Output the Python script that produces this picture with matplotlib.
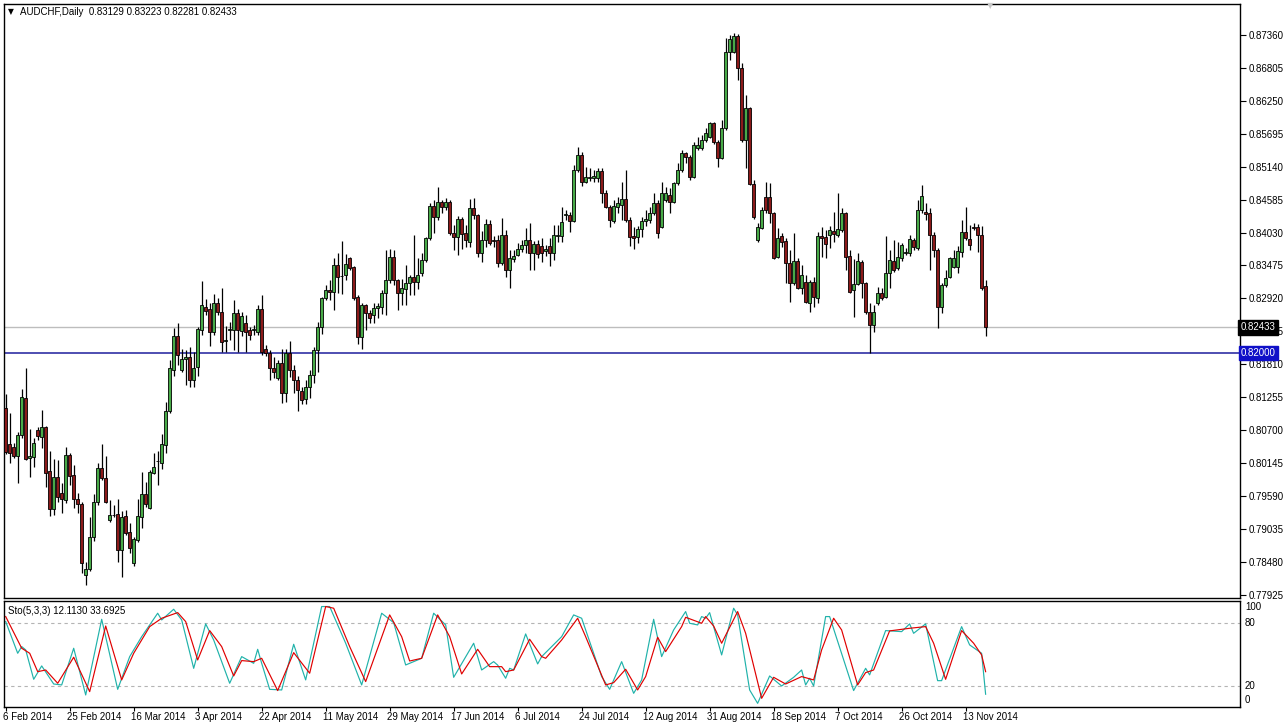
import numpy as np
import matplotlib
matplotlib.use("Agg")
import matplotlib.pyplot as plt
from matplotlib.transforms import blended_transform_factory

plt.rcParams['font.family'] = ['Liberation Sans', 'DejaVu Sans']

# ---------------- data (AUDCHF daily, bar 0 = 6 Feb 2014) ----------------
opens = [
    0.8107, 0.8047, 0.8042, 0.8026, 0.8062, 0.8124, 0.8023, 0.8025, 0.8070, 0.8058,
    0.8075, 0.8001, 0.7937, 0.7991, 0.7964, 0.7952, 0.8028, 0.7994, 0.7954, 0.7946,
    0.7826, 0.7836, 0.7890, 0.7949, 0.8006, 0.7989, 0.7919, 0.7927, 0.7929, 0.7868,
    0.7925, 0.7898, 0.7846, 0.7885, 0.7924, 0.7962, 0.7939, 0.7998, 0.8018, 0.8015,
    0.8045, 0.8102, 0.8171, 0.8229, 0.8171, 0.8190, 0.8193, 0.8155, 0.8176, 0.8239,
    0.8278, 0.8274, 0.8235, 0.8284, 0.8269, 0.8220, 0.8239, 0.8239, 0.8267, 0.8237,
    0.8251, 0.8239, 0.8239, 0.8235, 0.8274, 0.8207, 0.8200, 0.8175, 0.8158, 0.8183,
    0.8133, 0.8200, 0.8171, 0.8155, 0.8136, 0.8122, 0.8143, 0.8163, 0.8205, 0.8244,
    0.8293, 0.8306, 0.8303, 0.8348, 0.8330, 0.8331, 0.8360, 0.8345, 0.8294, 0.8227,
    0.8281, 0.8267, 0.8264, 0.8276, 0.8278, 0.8301, 0.8323, 0.8362, 0.8323, 0.8301,
    0.8308, 0.8318, 0.8328, 0.8320, 0.8335, 0.8357, 0.8394, 0.8448, 0.8429, 0.8454,
    0.8446, 0.8454, 0.8402, 0.8395, 0.8426, 0.8402, 0.8387, 0.8444, 0.8433, 0.8369,
    0.8390, 0.8417, 0.8390, 0.8390, 0.8352, 0.8399, 0.8340, 0.8358, 0.8365, 0.8375,
    0.8382, 0.8390, 0.8369, 0.8384, 0.8380, 0.8372, 0.8380, 0.8369, 0.8397, 0.8397,
    0.8433, 0.8433, 0.8422, 0.8508, 0.8534, 0.8488, 0.8495, 0.8495, 0.8495, 0.8507,
    0.8470, 0.8446, 0.8422, 0.8446, 0.8449, 0.8459, 0.8424, 0.8397, 0.8395, 0.8409,
    0.8422, 0.8424, 0.8436, 0.8453, 0.8412, 0.8458, 0.8466, 0.8454, 0.8487, 0.8508,
    0.8537, 0.8530, 0.8497, 0.8545, 0.8545, 0.8559, 0.8564, 0.8588, 0.8556, 0.8529,
    0.8579, 0.8707, 0.8707, 0.8734, 0.8680, 0.8559, 0.8613, 0.8485, 0.8390, 0.8411,
    0.8463, 0.8463, 0.8436, 0.8362, 0.8397, 0.8389, 0.8352, 0.8318, 0.8355, 0.8310,
    0.8320, 0.8284, 0.8320, 0.8293, 0.8397, 0.8395, 0.8399, 0.8406, 0.8399, 0.8407,
    0.8436, 0.8363, 0.8306, 0.8316, 0.8353, 0.8318, 0.8269, 0.8247, 0.8284, 0.8301,
    0.8294, 0.8335, 0.8355, 0.8343, 0.8360, 0.8369, 0.8369, 0.8390, 0.8377, 0.8441,
    0.8438, 0.8436, 0.8399, 0.8374, 0.8278, 0.8315, 0.8328, 0.8345, 0.8345, 0.8370,
    0.8404, 0.8392, 0.8412, 0.8412, 0.8399, 0.83129,
]
highs = [
    0.8131, 0.8099, 0.8048, 0.8067, 0.8139, 0.8175, 0.8072, 0.8057, 0.8075, 0.8104,
    0.8077, 0.8035, 0.8021, 0.8020, 0.7981, 0.8042, 0.8032, 0.8011, 0.7964, 0.7949,
    0.7848, 0.7924, 0.7962, 0.8015, 0.8047, 0.8026, 0.7952, 0.7944, 0.7954, 0.7934,
    0.7935, 0.7914, 0.7890, 0.7954, 0.7999, 0.7983, 0.8003, 0.8032, 0.8035, 0.8063,
    0.8117, 0.8188, 0.8242, 0.8251, 0.8207, 0.8205, 0.8210, 0.8202, 0.8244, 0.8321,
    0.8291, 0.8284, 0.8299, 0.8293, 0.8310, 0.8246, 0.8252, 0.8289, 0.8274, 0.8269,
    0.8264, 0.8244, 0.8247, 0.8281, 0.8298, 0.8213, 0.8205, 0.8193, 0.8188, 0.8207,
    0.8207, 0.8220, 0.8180, 0.8161, 0.8143, 0.8155, 0.8171, 0.8210, 0.8252, 0.8294,
    0.8315, 0.8323, 0.8360, 0.8369, 0.8389, 0.8367, 0.8362, 0.8347, 0.8298, 0.8284,
    0.8283, 0.8272, 0.8284, 0.8284, 0.8306, 0.8374, 0.8375, 0.8374, 0.8325, 0.8325,
    0.8348, 0.8331, 0.8399, 0.8360, 0.8369, 0.8395, 0.8453, 0.8458, 0.8480, 0.8458,
    0.8461, 0.8458, 0.8416, 0.8431, 0.8429, 0.8416, 0.8460, 0.8461, 0.8435, 0.8406,
    0.8426, 0.8424, 0.8397, 0.8399, 0.8428, 0.8407, 0.8374, 0.8374, 0.8385, 0.8390,
    0.8411, 0.8419, 0.8389, 0.8390, 0.8394, 0.8382, 0.8394, 0.8416, 0.8416, 0.8446,
    0.8441, 0.8438, 0.8517, 0.8547, 0.8539, 0.8513, 0.8512, 0.8508, 0.8512, 0.8512,
    0.8475, 0.8449, 0.8458, 0.8463, 0.8488, 0.8508, 0.8429, 0.8412, 0.8414, 0.8429,
    0.8441, 0.8446, 0.8470, 0.8458, 0.8488, 0.8480, 0.8478, 0.8488, 0.8520, 0.8542,
    0.8539, 0.8534, 0.8556, 0.8564, 0.8567, 0.8579, 0.8589, 0.8589, 0.8559, 0.8593,
    0.8731, 0.8736, 0.8739, 0.8737, 0.8689, 0.8635, 0.8615, 0.8492, 0.8419, 0.8446,
    0.8488, 0.8486, 0.8438, 0.8411, 0.8402, 0.8394, 0.8374, 0.8402, 0.8360, 0.8348,
    0.8331, 0.8323, 0.8328, 0.8404, 0.8412, 0.8407, 0.8414, 0.8438, 0.8470, 0.8444,
    0.8438, 0.8374, 0.8358, 0.8369, 0.8357, 0.8320, 0.8284, 0.8281, 0.8311, 0.8310,
    0.8397, 0.8374, 0.8390, 0.8387, 0.8385, 0.8377, 0.8399, 0.8394, 0.8458, 0.8483,
    0.8453, 0.8444, 0.8404, 0.8377, 0.8318, 0.8340, 0.8362, 0.8374, 0.8380, 0.8424,
    0.8446, 0.8416, 0.8419, 0.8417, 0.8414, 0.83223,
]
lows = [
    0.8030, 0.8015, 0.8023, 0.7981, 0.8057, 0.8020, 0.7991, 0.8008, 0.8053, 0.8040,
    0.7974, 0.7925, 0.7927, 0.7949, 0.7930, 0.7947, 0.7978, 0.7939, 0.7930, 0.7829,
    0.7809, 0.7833, 0.7883, 0.7944, 0.7986, 0.7947, 0.7915, 0.7924, 0.7848, 0.7823,
    0.7893, 0.7863, 0.7841, 0.7882, 0.7905, 0.7941, 0.7937, 0.7996, 0.7978, 0.8005,
    0.8032, 0.8099, 0.8161, 0.8180, 0.8168, 0.8146, 0.8143, 0.8143, 0.8161, 0.8230,
    0.8264, 0.8212, 0.8230, 0.8264, 0.8202, 0.8202, 0.8222, 0.8205, 0.8202, 0.8229,
    0.8202, 0.8222, 0.8230, 0.8230, 0.8197, 0.8195, 0.8155, 0.8158, 0.8155, 0.8116,
    0.8117, 0.8160, 0.8133, 0.8102, 0.8114, 0.8114, 0.8124, 0.8149, 0.8168, 0.8232,
    0.8289, 0.8289, 0.8272, 0.8301, 0.8299, 0.8323, 0.8340, 0.8289, 0.8215, 0.8207,
    0.8239, 0.8251, 0.8251, 0.8259, 0.8266, 0.8264, 0.8318, 0.8315, 0.8272, 0.8281,
    0.8281, 0.8298, 0.8298, 0.8308, 0.8330, 0.8353, 0.8390, 0.8402, 0.8424, 0.8436,
    0.8441, 0.8399, 0.8374, 0.8365, 0.8375, 0.8379, 0.8379, 0.8426, 0.8362, 0.8353,
    0.8379, 0.8382, 0.8379, 0.8345, 0.8348, 0.8328, 0.8310, 0.8353, 0.8363, 0.8370,
    0.8369, 0.8340, 0.8340, 0.8360, 0.8353, 0.8363, 0.8347, 0.8357, 0.8387, 0.8387,
    0.8424, 0.8404, 0.8421, 0.8505, 0.8481, 0.8486, 0.8490, 0.8488, 0.8488, 0.8453,
    0.8444, 0.8412, 0.8419, 0.8436, 0.8424, 0.8421, 0.8380, 0.8375, 0.8385, 0.8395,
    0.8414, 0.8419, 0.8433, 0.8394, 0.8411, 0.8454, 0.8436, 0.8453, 0.8483, 0.8505,
    0.8520, 0.8492, 0.8495, 0.8542, 0.8542, 0.8556, 0.8562, 0.8552, 0.8513, 0.8527,
    0.8576, 0.8694, 0.8705, 0.8660, 0.8556, 0.8512, 0.8483, 0.8425, 0.8387, 0.8409,
    0.8436, 0.8419, 0.8358, 0.8360, 0.8379, 0.8318, 0.8286, 0.8315, 0.8308, 0.8299,
    0.8284, 0.8269, 0.8278, 0.8284, 0.8362, 0.8360, 0.8377, 0.8387, 0.8395, 0.8404,
    0.8340, 0.8301, 0.8261, 0.8315, 0.8293, 0.8266, 0.8200, 0.8235, 0.8281, 0.8289,
    0.8293, 0.8310, 0.8336, 0.8340, 0.8355, 0.8365, 0.8363, 0.8374, 0.8374, 0.8436,
    0.8424, 0.8340, 0.8362, 0.8242, 0.8267, 0.8311, 0.8326, 0.8343, 0.8335, 0.8362,
    0.8390, 0.8374, 0.8407, 0.8370, 0.8306, 0.82281,
]
closes = [
    0.8033, 0.8032, 0.8026, 0.8062, 0.8126, 0.8021, 0.8026, 0.8048, 0.8060, 0.8075,
    0.7998, 0.7937, 0.7991, 0.7957, 0.7954, 0.8028, 0.7993, 0.7954, 0.7946, 0.7846,
    0.7836, 0.7890, 0.7949, 0.8006, 0.7989, 0.7949, 0.7927, 0.7927, 0.7868, 0.7924,
    0.7897, 0.7871, 0.7887, 0.7925, 0.7962, 0.7946, 0.7999, 0.8008, 0.8018, 0.8047,
    0.8102, 0.8175, 0.8229, 0.8197, 0.8190, 0.8193, 0.8155, 0.8175, 0.8240, 0.8281,
    0.8271, 0.8235, 0.8284, 0.8269, 0.8219, 0.8222, 0.8240, 0.8267, 0.8239, 0.8262,
    0.8235, 0.8230, 0.8240, 0.8274, 0.8202, 0.8200, 0.8175, 0.8168, 0.8183, 0.8133,
    0.8200, 0.8171, 0.8155, 0.8138, 0.8121, 0.8143, 0.8163, 0.8205, 0.8244, 0.8293,
    0.8306, 0.8303, 0.8348, 0.8328, 0.8330, 0.8350, 0.8343, 0.8293, 0.8227, 0.8281,
    0.8267, 0.8259, 0.8276, 0.8279, 0.8301, 0.8323, 0.8362, 0.8323, 0.8301, 0.8310,
    0.8318, 0.8328, 0.8320, 0.8331, 0.8357, 0.8394, 0.8448, 0.8429, 0.8454, 0.8446,
    0.8454, 0.8402, 0.8395, 0.8426, 0.8401, 0.8390, 0.8444, 0.8433, 0.8369, 0.8390,
    0.8417, 0.8385, 0.8389, 0.8352, 0.8399, 0.8340, 0.8360, 0.8363, 0.8375, 0.8382,
    0.8390, 0.8369, 0.8384, 0.8367, 0.8369, 0.8375, 0.8369, 0.8399, 0.8399, 0.8421,
    0.8434, 0.8422, 0.8508, 0.8534, 0.8488, 0.8497, 0.8497, 0.8498, 0.8507, 0.8470,
    0.8446, 0.8424, 0.8448, 0.8453, 0.8459, 0.8424, 0.8395, 0.8394, 0.8409, 0.8422,
    0.8426, 0.8436, 0.8453, 0.8402, 0.8470, 0.8470, 0.8454, 0.8487, 0.8508, 0.8537,
    0.8530, 0.8497, 0.8550, 0.8550, 0.8559, 0.8571, 0.8588, 0.8556, 0.8529, 0.8579,
    0.8707, 0.8729, 0.8734, 0.8680, 0.8559, 0.8613, 0.8485, 0.8429, 0.8412, 0.8441,
    0.8441, 0.8436, 0.8360, 0.8394, 0.8387, 0.8352, 0.8318, 0.8355, 0.8310, 0.8331,
    0.8286, 0.8320, 0.8294, 0.8397, 0.8394, 0.8384, 0.8407, 0.8401, 0.8409, 0.8436,
    0.8362, 0.8303, 0.8316, 0.8355, 0.8318, 0.8269, 0.8247, 0.8269, 0.8301, 0.8293,
    0.8335, 0.8357, 0.8340, 0.8362, 0.8382, 0.8370, 0.8392, 0.8379, 0.8441, 0.8465,
    0.8434, 0.8399, 0.8374, 0.8278, 0.8315, 0.8326, 0.8360, 0.8360, 0.8372, 0.8404,
    0.8394, 0.8382, 0.8411, 0.8399, 0.8310, 0.82433,
]

# date labels every 16 bars
date_labels = ["6 Feb 2014", "25 Feb 2014", "16 Mar 2014", "3 Apr 2014", "22 Apr 2014",
               "11 May 2014", "29 May 2014", "17 Jun 2014", "6 Jul 2014", "24 Jul 2014",
               "12 Aug 2014", "31 Aug 2014", "18 Sep 2014", "7 Oct 2014", "26 Oct 2014",
               "13 Nov 2014"]
date_bars = [0, 16, 32, 48, 64, 80, 96, 112, 128, 144, 160, 176, 192, 208, 224, 240]

price_ticks = [0.87360, 0.86805, 0.86250, 0.85695, 0.85140, 0.84585, 0.84030, 0.83475,
               0.82920, 0.82365, 0.81810, 0.81255, 0.80700, 0.80145, 0.79590, 0.79035,
               0.78480, 0.77925]
bid_price = 0.82433
level_price = 0.82000

# Stochastic (5,3,3) read at turning points: (bar, value)
sto_main_bar = [0, 3, 4, 5, 7, 9, 12, 14, 17, 20, 24, 28, 31, 34, 38, 39, 42, 44, 47, 50,
                52, 56, 59, 62, 63, 64, 66, 69, 72, 75, 79, 81, 85, 89, 94, 97, 100, 104,
                107, 110, 112, 117, 119, 122, 123, 125, 126, 127, 130, 133, 134, 139, 142,
                144, 149, 151, 154, 157, 159, 162, 164, 167, 170, 171, 173, 174, 175, 176,
                179, 182, 183, 186, 188, 191, 194, 197, 199, 200, 201, 202, 205, 206, 212,
                215, 216, 220, 224, 226, 227, 230, 233, 234, 239, 241, 244, 245]
sto_main_val = [81.6, 51.3, 57.7, 54.5, 26.4, 39.2, 21.9, 21.0, 56.1, 11.4, 83.8, 16.8,
                48.1, 67.2, 89.6, 83.2, 93.4, 83.2, 36.9, 79.4, 64.0, 22.6, 48.1, 41.7,
                55.1, 41.7, 16.8, 16.2, 59.9, 25.8, 96.0, 96.0, 60.9, 21.0, 89.6, 80.6,
                40.1, 46.5, 89.6, 78.4, 28.3, 60.9, 35.3, 43.3, 40.0, 27.4, 36.9, 35.3,
                69.8, 41.1, 48.1, 67.2, 88.0, 84.8, 29.0, 16.8, 43.3, 13.0, 25.8, 83.8,
                48.1, 73.6, 91.2, 80.0, 78.4, 86.4, 84.8, 90.2, 49.7, 94.4, 88.0, 16.2,
                3.4, 29.6, 20.0, 28.3, 35.3, 21.0, 27.4, 20.0, 86.4, 86.4, 15.6, 36.9,
                30.6, 73.0, 72.0, 79.4, 70.4, 79.4, 25.1, 25.1, 76.8, 59.3, 51.3, 12.113]
sto_sig_bar = [0, 4, 6, 8, 10, 13, 17, 21, 25, 29, 32, 36, 39, 43, 45, 48, 51, 54, 57, 59,
               62, 64, 68, 72, 76, 80, 82, 86, 90, 96, 99, 101, 104, 108, 111, 114, 118,
               121, 124, 125, 127, 131, 134, 135, 139, 143, 145, 150, 152, 155, 158, 160,
               163, 165, 169, 170, 174, 175, 177, 179, 183, 185, 189, 192, 195, 199, 202,
               204, 207, 209, 213, 215, 217, 221, 226, 230, 232, 235, 239, 242, 244, 245]
sto_sig_val = [86.4, 56.1, 51.3, 33.7, 35.3, 22.6, 47.5, 14.6, 77.4, 25.8, 51.3, 76.8,
               84.8, 90.2, 81.6, 44.9, 73.0, 57.7, 29.6, 44.3, 43.3, 46.5, 15.6, 51.9,
               32.2, 96.0, 94.4, 57.7, 24.2, 88.0, 67.2, 43.9, 46.5, 88.0, 67.2, 31.5,
               55.1, 38.5, 38.5, 33.7, 35.3, 64.7, 48.1, 46.5, 64.0, 84.8, 67.2, 21.0,
               23.2, 36.0, 16.2, 29.0, 66.6, 52.9, 76.8, 85.7, 80.0, 86.4, 77.4, 60.9,
               91.2, 70.4, 8.2, 28.3, 21.9, 29.0, 25.8, 54.5, 84.8, 73.6, 21.0, 32.8,
               35.3, 72.7, 75.2, 76.8, 60.9, 26.4, 73.0, 60.9, 49.7, 33.6925]

# ---------------- figure ----------------
W, H = 1285, 727
fig = plt.figure(figsize=(W / 100, H / 100), dpi=100)
fig.patch.set_facecolor('white')

def frac(left, top, right, bottom):
    return [left / W, 1 - bottom / H, (right - left) / W, (bottom - top) / H]

ax = fig.add_axes(frac(4, 4, 1240, 598))
ax2 = fig.add_axes(frac(4, 601, 1240, 707))

bull = '#48aa48'
bear = '#8b1a1a'

o = np.array(opens); hi = np.array(highs); lo = np.array(lows); c = np.array(closes)
x = np.arange(len(o))
up = c >= o
blo = np.minimum(o, c)
bh = np.maximum(np.abs(c - o), 0.00002)

ax.axhline(bid_price, color='#bdbdbd', lw=1.0, zorder=1)
ax.axhline(level_price, color='#1e1e9c', lw=1.1, zorder=1)

ax.vlines(x, lo, hi, color='black', lw=0.9, zorder=2)
ax.bar(x[up], bh[up], bottom=blo[up], width=0.72, color=bull, edgecolor='black',
       linewidth=0.6, zorder=3)
ax.bar(x[~up], bh[~up], bottom=blo[~up], width=0.72, color=bear, edgecolor='black',
       linewidth=0.6, zorder=3)

ax.set_xlim(-0.425, 308.6)
ax.set_ylim(0.77872, 0.87881)
ax.set_xticks([])
ax.yaxis.tick_right()
ax.set_yticks(price_ticks)
ax.set_yticklabels([f"{p:.5f}" for p in price_ticks])
ax.tick_params(axis='y', direction='out', length=4, width=0.8, labelsize=7, pad=2,
               colors='black')
for s in ax.spines.values():
    s.set_color('black'); s.set_linewidth(1.0)

# price boxes on the axis
trp = blended_transform_factory(ax.transAxes, ax.transData)
ax.text(1.0006, bid_price, f"{bid_price:.5f}", transform=trp,
        ha='left', va='center', fontsize=7, color='white', zorder=10, clip_on=False,
        bbox=dict(boxstyle='square,pad=0.25', fc='black', ec='black'))
ax.text(1.0006, level_price, f"{level_price:.5f}", transform=trp,
        ha='left', va='center', fontsize=7, color='white', zorder=10, clip_on=False,
        bbox=dict(boxstyle='square,pad=0.22', fc='#1010c8', ec='#1010c8'))

# header
fig.text(8 / W, 1 - 12 / H, "\u25BC", fontsize=5.5, ha='left', va='center', family='DejaVu Sans')
fig.text(20 / W, 1 - 12 / H, f"AUDCHF,Daily  {opens[-1]:.5f} {highs[-1]:.5f} {lows[-1]:.5f} {closes[-1]:.5f}",
         fontsize=7, ha='left', va='center')
# chart shift marker
fig.text(990 / W, 1 - 6 / H, "\u25BC", fontsize=6, ha='center', va='center', color='#c8c8c8',
         family='DejaVu Sans')

# ---------------- stochastic ----------------
ax2.axhline(80, color='#b4b4b4', lw=0.8, ls=(0, (3, 3)))
ax2.axhline(20, color='#b4b4b4', lw=0.8, ls=(0, (3, 3)))
ax2.plot(sto_main_bar, sto_main_val, color='#20b2aa', lw=0.85)
ax2.plot(sto_sig_bar, sto_sig_val, color='#e00000', lw=0.85)
ax2.set_xlim(-0.425, 308.6)
ax2.set_ylim(-0.1, 101.3)
ax2.set_yticks([])
ax2.set_xticks(date_bars)
ax2.set_xticklabels([])
ax2.tick_params(axis='x', direction='out', length=3, width=0.8)
for s in ax2.spines.values():
    s.set_color('black'); s.set_linewidth(1.0)

tr = blended_transform_factory(ax2.transAxes, ax2.transData)
for lab, v in [("100", 95.6), ("80", 80), ("20", 20), ("0", 6.6)]:
    ax2.text(1.004, v, lab, transform=tr, fontsize=7, ha='left', va='center', clip_on=False)

ax2.text(0.003, 0.91, f"Sto(5,3,3) {sto_main_val[-1]:.4f} {sto_sig_val[-1]:.4f}",
         transform=ax2.transAxes, fontsize=7, ha='left', va='center')

for b, lab in zip(date_bars, date_labels):
    ax2.annotate(lab, xy=(b - 0.75, 0), xycoords=('data', 'axes fraction'),
                 xytext=(0, -5), textcoords='offset pixels', ha='left', va='top',
                 fontsize=7, annotation_clip=False)

fig.savefig("out.png", dpi=100, facecolor='white')
